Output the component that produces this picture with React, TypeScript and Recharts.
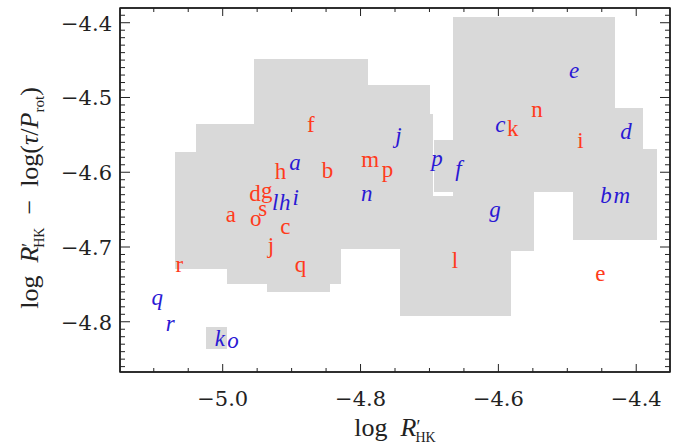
import React from "react";
import { ScatterChart, Scatter, XAxis, YAxis, ReferenceArea, ReferenceLine, Label } from "recharts";

// axis ranges
const X_DOMAIN = [-5.149, -4.351];
const Y_DOMAIN = [-4.8672, -4.3803];
const xMajor = [-5.0, -4.8, -4.6, -4.4];
const yMajor = [-4.8, -4.7, -4.6, -4.5, -4.4];

// upright (red) labels
const redLetters = ["a", "b", "c", "d", "e", "f", "g", "h", "i", "j", "k", "l", "m", "n", "o", "p", "q", "r", "s"];
const redX = [-4.988, -4.848, -4.909, -4.953, -4.452, -4.872, -4.936, -4.916, -4.481, -4.93, -4.579, -4.663, -4.786, -4.544, -4.952, -4.761, -4.887, -5.063, -4.942];
const redY = [-4.666, -4.608, -4.683, -4.639, -4.746, -4.546, -4.635, -4.609, -4.567, -4.708, -4.552, -4.728, -4.593, -4.526, -4.672, -4.606, -4.733, -4.734, -4.658];

// italic (blue) labels
const blueLetters = ["a", "b", "c", "d", "e", "f", "g", "h", "i", "j", "k", "l", "m", "n", "o", "p", "q", "r"];
const blueX = [-4.895, -4.444, -4.597, -4.415, -4.49, -4.658, -4.605, -4.91, -4.894, -4.745, -5.004, -4.924, -4.421, -4.791, -4.985, -4.689, -5.095, -5.076];
const blueY = [-4.597, -4.641, -4.546, -4.555, -4.474, -4.605, -4.66, -4.65, -4.644, -4.561, -4.833, -4.651, -4.641, -4.639, -4.835, -4.592, -4.777, -4.813];

// grey boxes (x1, x2, y bottom, y top)
const boxX1 = [-5.069, -5.039, -4.994, -4.955, -4.936, -4.844, -4.828, -4.789, -4.743, -4.699, -4.693, -4.695, -4.666, -4.582, -4.549, -4.492, -4.431, -4.39, -5.024];
const boxX2 = [-4.994, -4.994, -4.955, -4.936, -4.844, -4.828, -4.789, -4.743, -4.699, -4.695, -4.666, -4.666, -4.582, -4.549, -4.492, -4.431, -4.39, -4.37, -4.994];
const boxY1 = [-4.729, -4.729, -4.75, -4.75, -4.76, -4.75, -4.7025, -4.7025, -4.792, -4.792, -4.627, -4.792, -4.792, -4.706, -4.627, -4.6905, -4.6905, -4.6905, -4.837];
const boxY2 = [-4.5725, -4.535, -4.535, -4.449, -4.449, -4.449, -4.449, -4.483, -4.483, -4.522, -4.557, -4.632, -4.392, -4.392, -4.392, -4.392, -4.514, -4.569, -4.807];

const RED = "#ff3b1c";
const BLUE = "#2a18d4";
const GREY = "#d9d9d9";
const INK = "#222";
const NUM_FONT = "DejaVu Serif";
const TXT_FONT = "Liberation Serif";

// fixed layout
const W = 697;
const H = 447;
const M = { top: 8, right: 27, bottom: 0, left: 0 };
const PLOT_TOP = 8;
const PLOT_RIGHT = 670;

const xMinor: number[] = [];
for (let i = 0; i <= 14; i++) xMinor.push(Math.round((-5.1 + i * 0.05) * 100) / 100);
const yMinor: number[] = [];
for (let i = 0; i <= 47; i++) yMinor.push(Math.round((-4.86 + i * 0.01) * 100) / 100);
const xTicks = Array.from(new Set([...xMinor, ...xMajor]));
const yTicks = Array.from(new Set([...yMinor, ...yMajor]));

const isMajor = (v: number, step: number) => Math.abs(v / step - Math.round(v / step)) < 1e-6;
const fmt = (v: number) => v.toFixed(1).replace("-", "\u2212");

const redData = redLetters.map((label, i) => ({ label, x: redX[i], y: redY[i] }));
const blueData = blueLetters.map((label, i) => ({ label, x: blueX[i], y: blueY[i] }));

// bottom ticks point up into the plot, repeated on the top edge
const BottomTick = (props: any) => {
  const { x, y, payload } = props;
  const major = isMajor(payload.value, 0.2);
  const len = major ? 8 : 4;
  return (
    <g>
      <line x1={x} y1={y} x2={x} y2={y - len} stroke={INK} strokeWidth={1} />
      <line x1={x} y1={PLOT_TOP} x2={x} y2={PLOT_TOP + len} stroke={INK} strokeWidth={1} />
      {major && (
        <text x={x} y={y + 34} textAnchor="middle" fontFamily={NUM_FONT} fontSize={21} fill={INK}>
          {fmt(payload.value)}
        </text>
      )}
    </g>
  );
};

// left ticks point right into the plot, repeated on the right edge
const LeftTick = (props: any) => {
  const { x, y, payload } = props;
  const major = isMajor(payload.value, 0.1);
  const len = major ? 10 : 5;
  return (
    <g>
      <line x1={x} y1={y} x2={x + len} y2={y} stroke={INK} strokeWidth={1} />
      <line x1={PLOT_RIGHT} y1={y} x2={PLOT_RIGHT - len} y2={y} stroke={INK} strokeWidth={1} />
      {major && (
        <text x={x - 8} y={y + 8} textAnchor="end" fontFamily={NUM_FONT} fontSize={21} fill={INK}>
          {fmt(payload.value)}
        </text>
      )}
    </g>
  );
};

const XTitle = (props: any) => {
  const vb = props.viewBox;
  const cx = vb.x + vb.width / 2;
  const y = vb.y + 64;
  return (
    <text x={cx} y={y} textAnchor="middle" fontFamily={TXT_FONT} fontSize={26} fill={INK}>
      log{"\u2002"}
      <tspan fontStyle="italic">R</tspan>
      <tspan fontSize={18} dy={-3}>′</tspan>
      <tspan fontSize={14} dx={-5} dy={9}>HK</tspan>
    </text>
  );
};

const YTitle = (props: any) => {
  const vb = props.viewBox;
  const cx = 38;
  const cy = vb.y + vb.height / 2 + 8;
  return (
    <text x={cx} y={cy} transform={`rotate(-90 ${cx} ${cy})`} textAnchor="middle" fontFamily={TXT_FONT} fontSize={26} fill={INK}>
      log{"\u2002"}
      <tspan fontStyle="italic">R</tspan>
      <tspan fontSize={18} dy={-3}>′</tspan>
      <tspan fontSize={14} dx={-5} dy={9}>HK</tspan>
      <tspan dy={-6}>{"\u2002\u2212\u2002log("}</tspan>
      <tspan fontStyle="italic">τ</tspan>
      <tspan>/</tspan>
      <tspan fontStyle="italic">P</tspan>
      <tspan fontSize={15} dy={6}>rot</tspan>
      <tspan dy={-6}>)</tspan>
    </text>
  );
};

const letter = (color: string, italic: boolean) => (props: any) => {
  const { cx, cy, payload } = props;
  return (
    <text x={cx} y={cy} textAnchor="middle" fill={color} fontFamily={TXT_FONT} fontSize={23} fontStyle={italic ? "italic" : "normal"}>
      {payload.label}
    </text>
  );
};

export default function App() {
  return (
    <div style={{ position: "absolute", left: 0, top: 0, background: "#fff" }}>
      <ScatterChart width={W} height={H} margin={M}>
        <XAxis
          type="number"
          dataKey="x"
          domain={X_DOMAIN}
          allowDataOverflow
          ticks={xTicks}
          interval={0}
          height={75}
          tickSize={0}
          tickMargin={0}
          tickLine={false}
          tick={BottomTick}
          axisLine={{ stroke: INK, strokeWidth: 1.5 }}
        >
          <Label content={XTitle} />
        </XAxis>
        <YAxis
          type="number"
          dataKey="y"
          domain={Y_DOMAIN}
          allowDataOverflow
          ticks={yTicks}
          interval={0}
          width={120}
          tickSize={0}
          tickMargin={0}
          tickLine={false}
          tick={LeftTick}
          axisLine={{ stroke: INK, strokeWidth: 1.5 }}
        >
          <Label content={YTitle} />
        </YAxis>
        {boxX1.map((x1, i) => (
          <ReferenceArea
            key={i}
            x1={x1}
            x2={boxX2[i]}
            y1={boxY1[i]}
            y2={boxY2[i]}
            fill={GREY}
            fillOpacity={1}
            stroke="none"
            shapeRendering="crispEdges"
            ifOverflow="visible"
          />
        ))}
        <ReferenceArea
          x1={X_DOMAIN[0]}
          x2={X_DOMAIN[1]}
          y1={Y_DOMAIN[0]}
          y2={Y_DOMAIN[1]}
          fill="#ffffff"
          fillOpacity={0}
          stroke={INK}
          strokeWidth={1.5}
          ifOverflow="visible"
        />
        <ReferenceLine y={Y_DOMAIN[1]} stroke={INK} strokeWidth={1.5} ifOverflow="visible" />
        <ReferenceLine x={X_DOMAIN[1]} stroke={INK} strokeWidth={1.5} ifOverflow="visible" />
        <Scatter data={redData} shape={letter(RED, false)} isAnimationActive={false} />
        <Scatter data={blueData} shape={letter(BLUE, true)} isAnimationActive={false} />
      </ScatterChart>
    </div>
  );
}
